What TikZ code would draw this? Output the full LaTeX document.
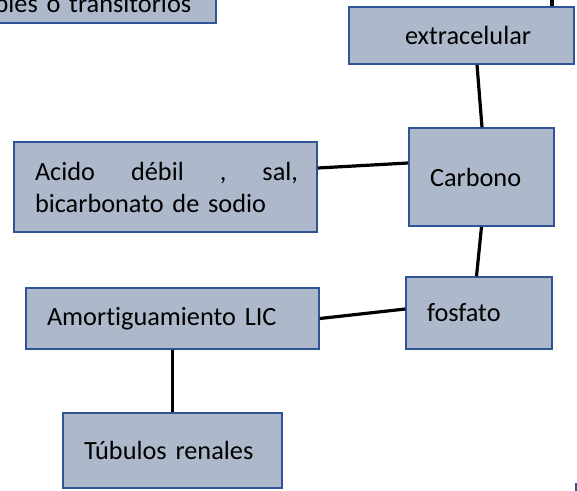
\documentclass[tikz,border=0pt]{standalone}
\usepackage{fontspec}
\setmainfont{Carlito}[Ligatures=NoCommon]
\usepackage{tikz}
\usetikzlibrary{positioning}
\definecolor{boxfill}{RGB}{173,185,202}
\definecolor{boxline}{RGB}{47,85,151}

\begin{document}
\begin{tikzpicture}[x=1pt,y=-1pt,
        caja/.style={draw=boxline,fill=boxfill,line width=1.6pt,align=left,inner xsep=21pt,inner ysep=0pt,font=\fontsize{26.3}{32}\selectfont},
        enlace/.style={line width=3.2pt,black}]
        \useasboundingbox (0,0) rectangle (577,490);
        \clip (0,0) rectangle (577,490);
        \node[caja,anchor=south east,text width=258pt,align=right,inner xsep=25pt,inner ysep=11pt,text height=40pt,text depth=0pt] (estables) at (217,24) {bles o transitorios};
        \node[caja,minimum width=225pt,minimum height=57pt,text width=183pt] (extracelular) at (461.5,35.5) {\hspace*{35pt}extracelular};
        \node[caja,minimum width=145pt,minimum height=98pt,text width=103pt] (carbono) at (481.5,177) {Carbono};
        \node[caja,minimum width=303pt,minimum height=90pt,text width=261pt] (acido) at (165.5,187) {\hbox to 263pt{Acido\hfill débil\hfill ,\hfill sal,}\\bicarbonato de sodio};
        \node[caja,minimum width=146pt,minimum height=72pt,text width=104pt] (fosfato) at (479,313) {fosfato};
        \node[caja,minimum width=293pt,minimum height=61pt,text width=251pt] (amort) at (172.5,318.5) {Amortiguamiento LIC};
        \node[caja,minimum width=219pt,minimum height=75pt,text width=177pt] (tubulos) at (172.5,450.5) {Túbulos renales};
        \coordinate (arriba) at (552,-4);
        % enlaces
        \draw[enlace] ([xshift=90.5pt]extracelular.north) -- (arriba);
        \draw[enlace] ([xshift=15.5pt]extracelular.south) -- ([xshift=0.5pt]carbono.north);
        \draw[enlace] (carbono.south) -- ([xshift=-2.5pt]fosfato.north);
        \draw[enlace] ([yshift=19pt]acido.east) -- ([yshift=14pt]carbono.west);
        \draw[enlace] (amort.east) -- ([yshift=4pt]fosfato.west);
        \draw[enlace] (amort.south) -- (tubulos.north);
        \draw[boxline,line width=1.6pt] (576,483) -- (576,492);
\end{tikzpicture}
\end{document}
